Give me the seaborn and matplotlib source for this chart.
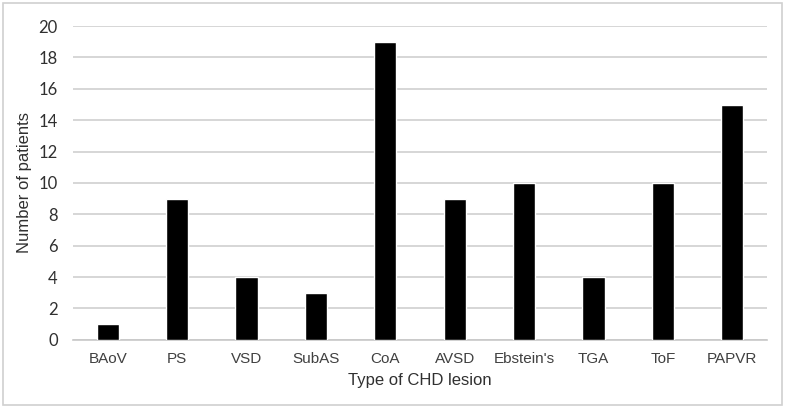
import pandas as pd
import matplotlib.pyplot as plt
import matplotlib.patches as patches
import seaborn as sns

sns.set_theme(style="white")
plt.rcParams['font.family'] = ['Liberation Sans', 'DejaVu Sans']

# Data
lesions = ['BAoV', 'PS', 'VSD', 'SubAS', 'CoA', 'AVSD', "Ebstein's", 'TGA', 'ToF', 'PAPVR']
patients = [1, 9, 4, 3, 19, 9, 10, 4, 10, 15]
y_ticks = list(range(0, 21, 2))

df = pd.DataFrame({'Lesion': lesions, 'Patients': patients})

fig = plt.figure(figsize=(7.85, 4.08), dpi=100)
ax = fig.add_axes([0.093, 0.167, 0.884, 0.769])

sns.barplot(data=df, x='Lesion', y='Patients', ax=ax, color='black',
            width=0.32, saturation=1, zorder=3)

ax.set_ylim(0, 20)
ax.set_yticks(y_ticks)
ax.yaxis.grid(True, color='#d0d0d0', linewidth=1.2, zorder=0)
ax.set_axisbelow(True)
for s in ['top', 'right', 'left']:
    ax.spines[s].set_visible(False)
ax.spines['bottom'].set_color('#c8c8c8')
ax.spines['bottom'].set_linewidth(1.2)

ax.tick_params(axis='x', length=0, labelsize=11, colors='#404040', pad=9)
ax.tick_params(axis='y', length=0, labelsize=12, colors='#303030', pad=11)
for lbl in ax.get_yticklabels():
    lbl.set_family(['Lato', 'DejaVu Sans'])
ax.set_xlabel('Type of CHD lesion', fontsize=12, color='#303030', labelpad=5)
ax.set_ylabel('Number of patients', fontsize=12, color='#303030', labelpad=5)

# Outer border around the chart area
fig.patches.append(patches.Rectangle((0.004, 0.007), 0.992, 0.986, transform=fig.transFigure,
                                     fill=False, edgecolor='#d0d0d0', linewidth=1.2))

fig.savefig('out.png', dpi=100)
